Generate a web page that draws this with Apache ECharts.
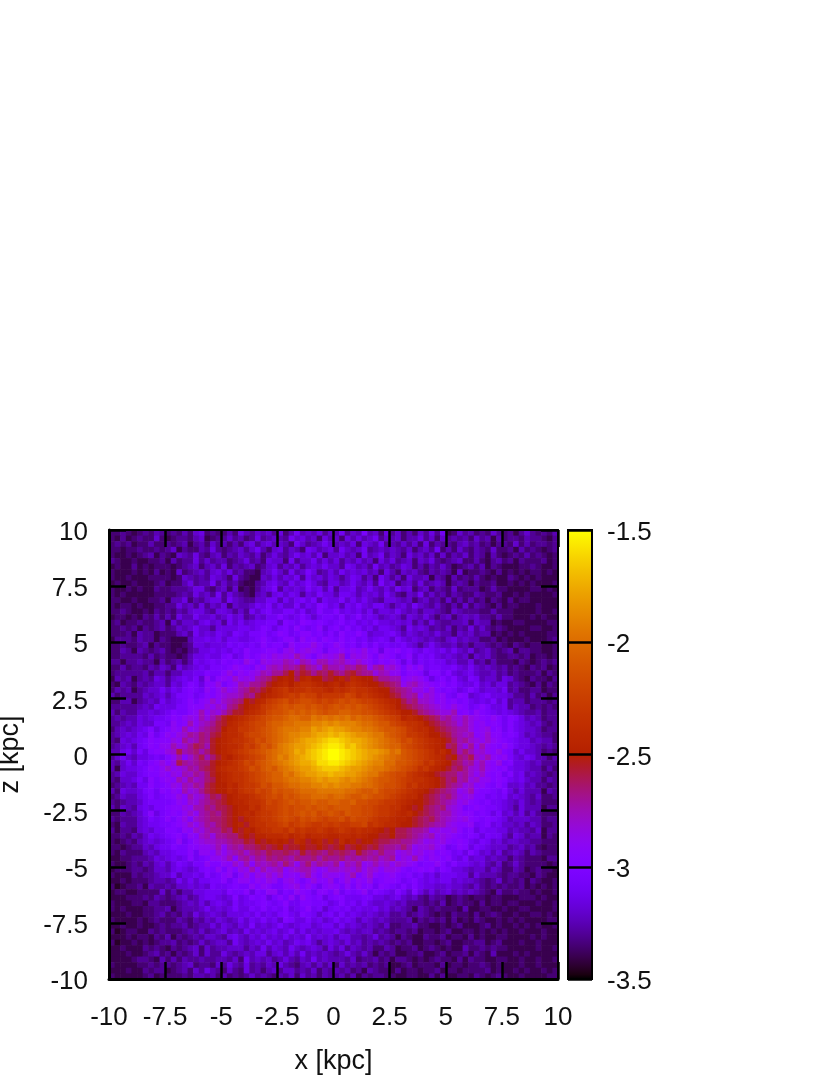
<!DOCTYPE html>
<html><head><meta charset="utf-8">
<script src="https://cdn.jsdelivr.net/npm/echarts@6/dist/echarts.min.js"></script>
<style>html,body{margin:0;padding:0;background:#fff}#c{width:830px;height:1075px}</style>
</head><body><div id="c"></div>
<script>
// Each character is one 0.25 kpc cell: level index into levelChars; log density = minLog + index * levelStep.
// Values are hand estimates: the large-scale pattern follows it, the cell-level speckle is approximate.
const levelChars = "0123456789abcdefghijklmnopqrstuvwxyzABCDE";
const minLog = -3.5, maxLog = -1.5, levelStep = 0.05;
const cellKpc = 0.25;
const axisTicks = [-10, 10, 2.5];
const densityRows = [
"3343234354 3435367343 3537546564 7358565746 5846595637 4635364748 2364534364 3424643435",
"3242343363 2344356234 4645347456 5486756375 6375756846 5635574636 4545364525 3443544324",
"3434233533 4345245364 5353674675 6538645686 5657376584 5464637354 4356453424 4363534434",
"3323343343 4624335474 3456468536 7465387567 4865684565 6546356483 5364354363 3425343234",
"3223234524 3265474356 3546546357 5468675836 6756385684 6537564636 3546354253 2343534323",
"4322322334 2534474645 5345745376 6384668575 7465756375 7456365743 4563353245 3424333423",
"2322423233 3234563564 7354563467 4657467686 6487564856 4576353546 4234535243 2223343223",
"3222323242 3263456467 5745332568 6485697457 5867675637 5365643545 4262334324 2323233232",
"3223222333 3236545476 5374322657 5768486757 6468746386 4637556254 2534353232 2432323222",
"2322322234 2335745584 6453224578 6586797547 7568657496 7356474565 2454243342 2323232223",
"3223232243 3444577435 6362324679 4767697858 4778568657 5867356354 3634442353 3222233232",
"3232222233 3345475648 4754325647 8687476977 5887576758 6436584645 3543354334 2232322223",
"3322322334 2557354677 4865446688 5868979587 7968686547 7656356453 6353534243 2423322222",
"3233232233 4475647465 7365568796 8669687a97 8587976886 4675865464 3536354324 2332223222",
"3343223243 4354677547 7646486897 7997967a88 a787868577 6865646654 3654443353 3322223223",
"2332324353 5375586675 6867457688 a878a86899 8a78a78756 7647657535 6356564435 3322232322",
"3423343345 2646657867 4868678899 6a98ba9a98 9a89787977 6767464754 4556365523 2233222233",
"3343424345 3465686647 7778878a97 9a8b989b79 a8a8978688 7648676454 6354746434 3222233223",
"3334254423 3356486768 7698799a89 ba89bb9a8a 8b99b96778 9757656575 5365645523 2323222233",
"2444354424 3222577878 6887789b98 9bb8cab9ba 9b9a897898 6976765654 6756553342 3222322234",
"3343345243 3223477677 7989898b9a a8cabbdb9a cb9a8a8a89 8897646865 5645355434 3243233223",
"3354254345 3232457787 8798b99abb 9cdacdcb8b bcacbdab7b ab9a879878 6865745643 4524433223",
"3344443534 3323577877 9a78b9acbd cdcfdb9cdc df9dcdb9cb a89b798976 7656365643 3443423323",
"4424454425 3453587898 a9a9db9dcd dfecfecffd efdcecb9ba ca7a798988 6755745353 3324323434",
"3353443546 5375678799 9acba9cbef egfgigfdhf fegfhgcfgd ec9cac8998 8976865654 5343243423",
"3444445355 3557788a99 bdacbcdfeg gikhjigihj hgijhggdfe cc9bba7aa8 a767865564 5343334243",
"2545245476 4678796c8b cbecdcfghj klkilmkkij kljmlkkigg ffbcdca79a 8a76985664 7643243324",
"3254354566 4768a97bbd 9bcfegghjk lmkmnnmlkl mkmnmlkkji hgcefdcbab 9a87796757 7454324243",
"3545245668 6879a98cac ecdfgihjkm nomnnonnml nmnonnmlkk ihgfddbda9 a978a86776 8453344233",
"5344446567 5799a89bac deefhgjklm nopoqppnoo ooqpnonmlk jigfgcedbc 98ba678977 7644353424",
"3355245658 6789b9bcec efghkjlmop qrpqrrqpqp qrqrqpponm lkigheedbc ab9a878796 8455344434",
"4444456587 7799bbbdce dghjklmopq rsrssrsrqr srsrsrqpon mkjihgfedc bdba89b977 8465534343",
"5354466767 8a99bcfced fhjjlmnoqr rstststsrs sttssrrqpo nmkkjhgfed dfab9ca987 8765445344",
"4545576788 9bacdcfdfh jklmnopqrs stuuttvuvu vuvtuttsrq polmlkjihf gedfdcbaca 8a97565344",
"4456576699 8cabfcefgi jlmnopqqst tuuvvvwwxw xwwwvuutss qponnmkjih gfdfdbcaba 8a87656434",
"3565678a79 acbfcdfghi kmmoopqrst uvvvwwyxyz yyxwwvvuts srqonmmkji hgffdbcdab 8a87665344",
"4567687b8a cbdegfhgij lmmnpqqrst uvwwxxyzzA zAzyxxwvvt srqoonmkkj igfefbcebb 9a97565443",
"4376789bab bdcgefhgjk lmnnoprqst uvwxyzzABC CBAzzyxwvu tsqrponmlk jhfgedcecb a987756553",
"4567589bac cfdegihfjk lmmnpoqsrt vwxyyzABCD DCABzyxwvu ttrqponmlk hifdgcfcba ca87765454",
"5578697abb deifghfhjk lmnopqrstu vwxzyABCDE EDCBAzyyxw uvsrqponlm kifhfdecbd a968665343",
"4686577898 acfbegifhj lkmnopqrtu wvxyzABCDE EDCBAzyxwv utsrqponml jkhgiedfcb c976875535",
"5468698abd bdigfghhjk lmnoqprstu vwxyzzACCD DCBAzyxwwu ussrqpnoml kihfgdfcbd 9a77656444",
"5267789bac ecdegfhijl mnnoprqsts uvwxyyzABB BAzyyxwvvu tsrqpnomlk jhigedfcba b877655353",
"4576689aac bdcfegfhjk lmnnopqrst tvuwxyyzzA zzyyxwvvts rqqonmlkji hhfgecebab 8a78565434",
"4366797b9b cbfdgefhik lmnnopqrst tuvvwwxyxy yxwxwvutss rqponnmlkj hifgdeccab a878655354",
"3456588b9a bdcfegfijk kmlnooprqs stuuvvwwxw xwwvvuutsr rqpnommlkj hgfdebca9b 9667564434",
"5376679a8b acbfdegijk kmlnooqpqs rsstuuuvvv vvuutsstrq qponmlkjih gfcdfbaa98 a757555254",
"3465578a89 abdbfdegih jklmmnopqr qsrsttuuut uutsstsrrq ponmmkjihg hfdcdaa898 9676546334",
"4345568999 9acbedfghi jkllmnnoqp qrsrsstsst tsstrrqqpo onmlkkjihg fecdba9a88 7657545333",
"5365478799 abbdcffhgi ijkllnmopp qrqrrsrssr sssrrqqpoo nnlkjkihgh edc9aba998 7647555244",
"3354568b79 abacecfghg ijklmlnoop qrqrsrsqrs rqsrrqqpoo nmlmkjihgf fdcbb9a979 6757464333",
"4344467989 b9bdaefghh ijkjlmnoop qrqprqrqpq qrprqqponn mllkjihigf edcdba9a98 7566655344",
"3254467889 9abcecegfh ijkljmnnoo pqopqpoopo pooppqnonm mlkkjihgff dcbbc89a78 6656465334",
"4244367688 aa9cbedfgg ihkjlkmnno onpnonnonm nonmnmmlkj kiihggfcdc cdb9a79887 7565546244",
"3343546878 9ab9cbefdg ghhjkjllmm mnlmnlmmml lmmlmlkkjj kiihgfefcd cba9a97988 6476455243",
"3234356767 89c8acdeef fghhjikjkl kljmljkljl jmkljkkjii hhggfecdcd baba879867 5665544333",
"3323446578 8a99bbccdf cfgfhhijij kijjkjjkji jkijkjijhg gfhfcddecb 89ba798766 6456453233",
"3243335657 7899b8ccbe cefgeghgih hihgjhihgi hihgjhgfhf fcdecdbcab a897a86757 4565354333",
"2233444576 7878b89acc dfbfgegfhg hgfhgghfhg ghfgfgfgef gbdcfcacba b879677565 5354333244",
"3223435467 5798799caa cbecfbfefg ehfcfhegfe gcfegcdfde cedcb9aaca 8a88767546 3464333323",
"2333443466 5787679a9c 9cadcfcfde fbdeffdbce ededfcedbd dca9abab8a 9776566465 3354234332",
"3222434456 6857787a89 bc8bdadcec ebcbdfcadc cbdfacebab ca9a897868 8877475554 3443324322",
"2232333455 4586868899 b8accacbdc 9cdb9bdbbd 9bdacbd9ab ba89a87878 8676654346 3434243223",
"3123342544 5466767698 89a99cacb9 9bcdaca8bc b9c9cab8ba 98a8a87766 7665464343 4334232323",
"2332233336 3535577888 7a99b7a9cc 8a9cba8bb9 c8a9ac8a98 7a86a75756 7565654325 3343323223",
"2223334354 3456457887 67a78a9a79 b9c8ca9a79 aa88899776 7865643544 2343233233 2223332322",
"3222332443 3345657578 7697889a98 9b88aa9997 8a89797667 6564443435 2343324233 2332223223",
"3232223344 5245556867 6797798a89 8a789b8968 9897877867 5654254343 3325223322 3223322223",
"2223223345 3435475676 5777879787 9a87a98689 7978767656 4453454323 2433242343 2232233232",
"3222232343 3354354657 6568687978 6a97797867 9787576565 4445243434 2423243223 2323222233",
"2232232234 3445345575 7657696767 9767886788 6867656546 3344533223 2342223423 2232323223",
"3123322434 3334546456 7565867678 6796867677 8656566454 3443423323 4223323232 3223222322",
"2223233243 5243454665 4786576867 6867696767 5775545745 4243224334 2332423223 3222232322",
"3122323234 4534346456 6486567686 7568786467 6575645454 3434223323 4223344234 2223223222",
"2232224343 2434563645 5666465857 6586567647 5746545335 4233423432 3225334343 3222223223",
"2223223453 4243463644 7545657746 7575856565 4575464243 4223342234 2334243252 2232322222",
"2222344325 3535445445 5463856564 5754658565 5546344534 2443232343 3242433223 3223223223",
"3222233434 4345634436 4754745465 7543564646 3645453434 2234233324 2332334323 2223223222",
"2223224344 2345364754 3643745356 4664546354 5453425433 2423323342 3323333423 2232322323",
"3222223423 3334355453 5343464543 5463645354 4535243443 3223322424 2233243234 3223222233"
];

// gnuplot pm3d default palette (rgbformulae 7,5,15)
function palette(v) {
  const g = Math.min(1, Math.max(0, (v - minLog) / (maxLog - minLog)));
  const r = Math.sqrt(g), gr = g * g * g, b = Math.max(0, Math.sin(2 * Math.PI * g));
  return 'rgb(' + Math.round(r * 255) + ',' + Math.round(gr * 255) + ',' + Math.round(b * 255) + ')';
}

const cells = [];
densityRows.forEach((row, r) => {
  const chars = row.replace(/ /g, '');
  for (let c = 0; c < chars.length && c < 80; c++) {
    cells.push([axisTicks[0] + cellKpc * (c + 0.5), axisTicks[1] - cellKpc * (r + 0.5), minLog + levelChars.indexOf(chars[c]) * levelStep]);
  }
});

const barStops = [];
for (let i = 0; i <= 100; i++) barStops.push({offset: i / 100, color: palette(maxLog - (maxLog - minLog) * i / 100)});

const fontFamily = '"Liberation Sans", Arimo, Helvetica, Arial, sans-serif';
const labelStyle = {color: '#111', fontSize: 26, fontFamily};
const nudgedLabel = {formatter: '{v|{value}}', rich: {v: {color: '#111', fontSize: 26, fontFamily, padding: [6, 0, 0, 0]}}};
const nameStyle = {color: '#111', fontSize: 27, fontFamily};
const hidden = {show: false};
function plotAxis(position, visible, margin, extra) {
  return Object.assign({
    type: 'value', min: axisTicks[0], max: axisTicks[1], interval: axisTicks[2], position, gridIndex: 0, z: 5,
    splitLine: hidden,
    axisLine: {show: true, onZero: false, lineStyle: {color: '#000', width: visible ? 3 : 2}},
    axisTick: {show: true, inside: true, length: 17, lineStyle: {color: '#000', width: 2.5}},
    axisLabel: visible ? Object.assign({show: true, margin, showMinLabel: true, showMaxLabel: true, hideOverlap: false}, labelStyle,
      position === 'left' ? nudgedLabel : {}) : hidden
  }, extra || {});
}

const chart = echarts.init(document.getElementById('c'), null, {renderer: 'canvas'});
chart.setOption({
  animation: false,
  backgroundColor: '#fff',
  grid: [
    {left: 109, top: 530, width: 449, height: 449, containLabel: false, outerBoundsMode: 'none'},
    {left: 568, top: 530, width: 24, height: 449, show: true, borderColor: '#000', borderWidth: 2, backgroundColor: 'transparent', z: 6, outerBoundsMode: 'none'}
  ],
  xAxis: [
    plotAxis('bottom', true, 26, {name: 'x [kpc]', nameLocation: 'middle', nameGap: 69, nameTextStyle: nameStyle}),
    plotAxis('top', false, 0),
    {type: 'value', gridIndex: 1, min: 0, max: 1, show: false}
  ],
  yAxis: [
    plotAxis('left', true, 21, {name: 'z [kpc]', nameLocation: 'middle', nameGap: 85, nameTextStyle: nameStyle}),
    plotAxis('right', false, 0),
    {type: 'value', gridIndex: 1, min: minLog, max: maxLog, interval: 0.5, position: 'right', z: 7,
     splitLine: hidden, axisLine: {show: true, onZero: false, lineStyle: {color: '#000', width: 2}},
     axisTick: {show: true, inside: true, length: 24, lineStyle: {color: '#000', width: 2.5}},
     axisLabel: Object.assign({show: true, margin: 15, showMinLabel: true, showMaxLabel: true}, labelStyle, nudgedLabel)}
  ],
  series: [
    {
      type: 'custom', coordinateSystem: 'cartesian2d', xAxisIndex: 0, yAxisIndex: 0, z: 2, silent: true,
      clip: true, data: cells, encode: {x: 0, y: 1},
      renderItem(params, api) {
        const a = api.coord([api.value(0) - cellKpc / 2, api.value(1) + cellKpc / 2]);
        const b = api.coord([api.value(0) + cellKpc / 2, api.value(1) - cellKpc / 2]);
        return {type: 'rect', shape: {x: a[0], y: a[1], width: b[0] - a[0] + 0.6, height: b[1] - a[1] + 0.6},
                style: {fill: palette(api.value(2))}};
      }
    },
    {
      type: 'custom', coordinateSystem: 'cartesian2d', xAxisIndex: 2, yAxisIndex: 2, z: 2, silent: true,
      data: [[0, minLog, 1, maxLog]], encode: {x: [0, 2], y: [1, 3]},
      renderItem(params, api) {
        const a = api.coord([api.value(0), api.value(3)]);
        const b = api.coord([api.value(2), api.value(1)]);
        return {type: 'rect', shape: {x: a[0], y: a[1], width: b[0] - a[0], height: b[1] - a[1]},
                style: {fill: new echarts.graphic.LinearGradient(0, 0, 0, 1, barStops)}};
      }
    }
  ]
});
</script></body></html>
